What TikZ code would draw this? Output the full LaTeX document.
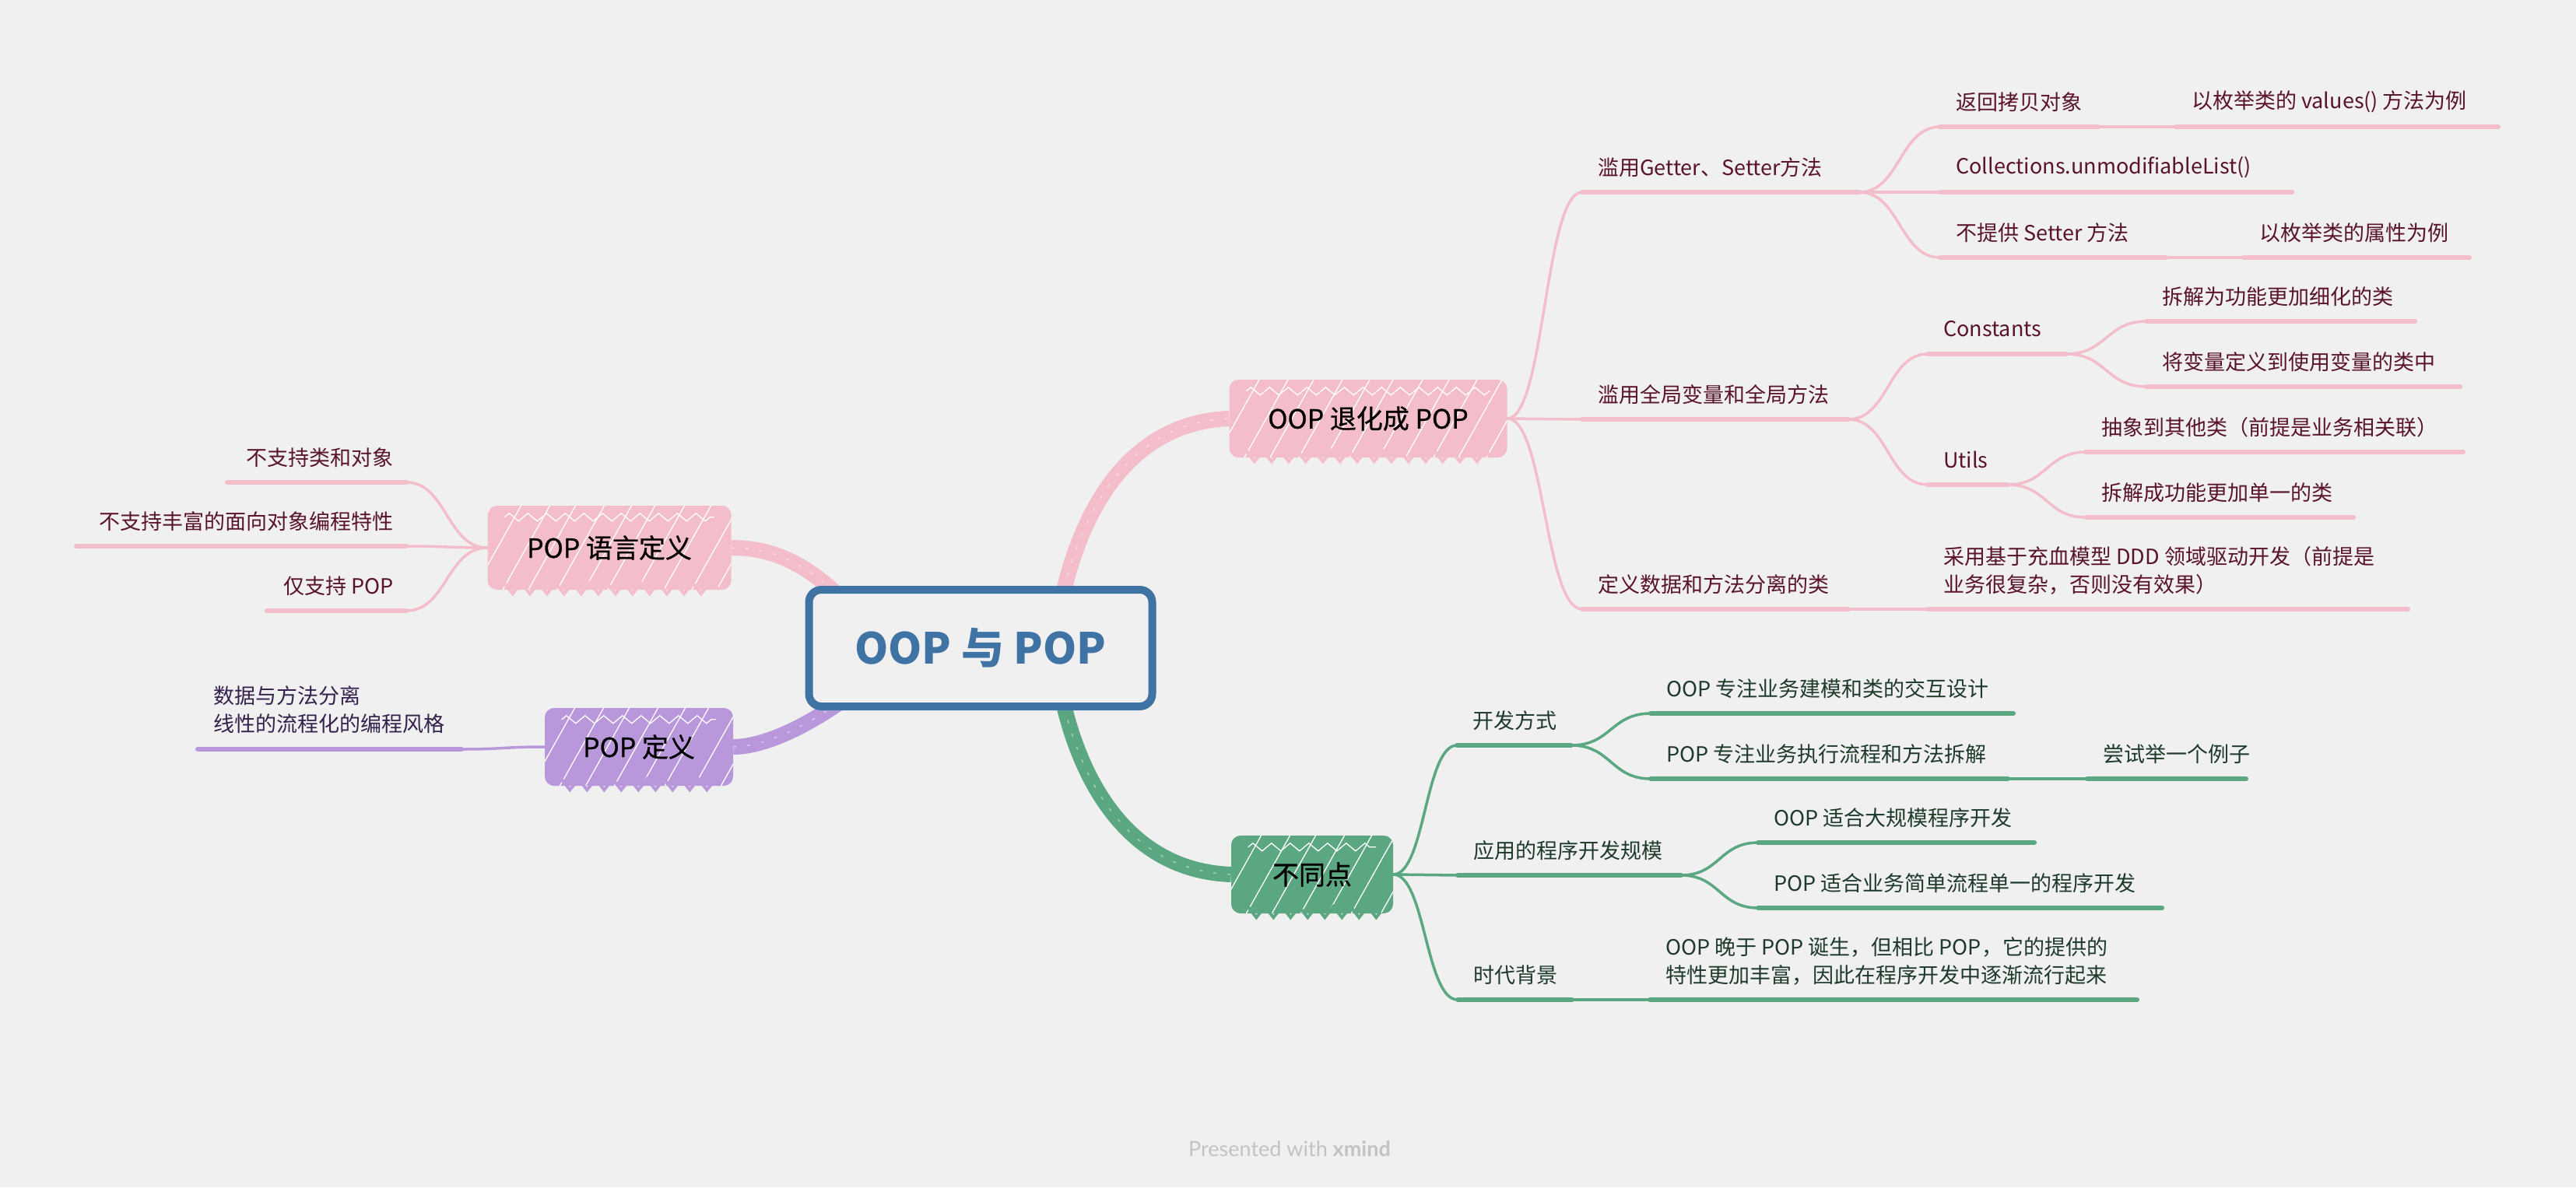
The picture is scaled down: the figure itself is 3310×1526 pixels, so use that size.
\documentclass[tikz,border=0pt]{standalone}
\usepackage{fontspec}
\setmainfont{Noto Sans CJK SC}
\newfontfamily\medfont[FakeBold=0.7]{Noto Sans CJK SC}
\newfontfamily\footfont{Lato}
\usetikzlibrary{calc,decorations.pathmorphing}
\pgfdeclarelayer{bgl}
\pgfdeclarelayer{conn}
\pgfsetlayers{bgl,conn,main}
\definecolor{bg}{HTML}{F0F0F0}
\definecolor{pk}{HTML}{F3BEC9}
\definecolor{pu}{HTML}{B898DA}
\definecolor{gr}{HTML}{5AA781}
\definecolor{bl}{HTML}{3E73A4}
\definecolor{pktx}{HTML}{5A1428}
\definecolor{putx}{HTML}{35224C}
\definecolor{grtx}{HTML}{1E3A2A}
\definecolor{footc}{HTML}{C3C3C3}
\tikzset{
  sub/.style={font=\fontsize{27}{36}\selectfont, inner sep=0pt},
  uline/.style={line width=6pt, line cap=round},
  thinc/.style={line width=3.5pt, line cap=round},
  thickc/.style={line width=20pt},
  hatchmarks/.style={white, line width=1.5pt, dash pattern=on 4pt off 14pt, opacity=0.45},
  mainnode/.style={rounded corners=12pt, inner sep=0pt, font=\medfont\fontsize{34}{40}\selectfont, text=black,
    path picture={\foreach \i in {-95,-60,-22,15,48,85,120,150,188,222,258,290,326,360}{\draw[white,line width=1.3pt] ([xshift=\i pt,yshift=-8pt]path picture bounding box.south west) -- ++(70pt,125pt);}}},
}
\newcommand\nodedecor[2]{%
  \draw[#2, line width=4pt, decorate, decoration={zigzag,segment length=22pt,amplitude=7pt}] ([xshift=16pt,yshift=2pt]#1.south west) -- ([xshift=-16pt,yshift=2pt]#1.south east);
  \draw[white, line width=1.3pt, decorate, decoration={zigzag,segment length=24pt,amplitude=5pt}] ([xshift=22pt,yshift=-15pt]#1.north west) -- ([xshift=-22pt,yshift=-15pt]#1.north east);
}
\newcommand\rt[6]{%
  \coordinate (#1-s) at (#2,#4); \coordinate (#1-e) at (#3,#4);
  \node[sub,text=#5tx,anchor=west] (#1) at ({#2+20},{#4-32}) {#6};
  \draw[uline,#5] (#1-s) -- (#1-e);}
\newcommand\rtt[7]{%
  \coordinate (#1-s) at (#2,#4); \coordinate (#1-e) at (#3,#4);
  \node[sub,text=#5tx,anchor=west,align=left] (#1) at ({#2+20},{#4-50}) {#6\\#7};
  \draw[uline,#5] (#1-s) -- (#1-e);}
\newcommand\lt[6]{%
  \coordinate (#1-s) at (#2,#4); \coordinate (#1-e) at (#3,#4);
  \node[sub,text=#5tx,anchor=east] (#1) at ({#3-16},{#4-32}) {#6};
  \draw[uline,#5] (#1-s) -- (#1-e);}
\newcommand\sconn[3]{\draw[thinc,#1] let \p1=(#2), \p2=(#3) in (#2) .. controls ({0.5*\x1+0.5*\x2},\y1) and ({0.5*\x1+0.5*\x2},\y2) .. (#3);}
\newcommand\thk[2]{\draw[thickc,#1] #2; \draw[hatchmarks] #2;}
\begin{document}
\begin{tikzpicture}[x=1pt,y=-1pt]
\begin{pgfonlayer}{bgl}
\fill[bg] (0,0) rectangle (3310,1526);
\end{pgfonlayer}
\useasboundingbox (0,0) rectangle (3310,1526);

% central and main nodes
\node[draw=bl, line width=10pt, fill=bg, rounded corners=16pt, minimum width=441pt, minimum height=150pt, text=bl, font=\fontsize{55}{60}\selectfont\bfseries] (ctr) at (1260,833) {OOP 与 POP};
\node[mainnode, fill=pk, minimum width=357pt, minimum height=100pt] (oop) at (1758,538) {OOP 退化成 POP};
\node[mainnode, fill=pk, minimum width=313pt, minimum height=108pt] (popl) at (783,704) {POP 语言定义};
\node[mainnode, fill=pu, minimum width=242pt, minimum height=100pt] (popd) at (821,960) {POP 定义};
\node[mainnode, fill=gr, minimum width=208pt, minimum height=100pt] (diff) at (1686,1124) {不同点};
\nodedecor{oop}{pk}
\nodedecor{popl}{pk}
\nodedecor{popd}{pu}
\nodedecor{diff}{gr}

% thick main connectors
\begin{pgfonlayer}{conn}
\thk{pk}{([xshift=100pt,yshift=40pt]ctr.center) .. controls +(22,-125) and +(-135,5) .. (oop.west)}
\thk{gr}{([xshift=100pt,yshift=-40pt]ctr.center) .. controls +(22,125) and +(-135,-5) .. (diff.west)}
\thk{pk}{(popl.east) .. controls +(60,0) and +(-60,-70) .. ([xshift=-150pt,yshift=33pt]ctr.center)}
\thk{pu}{(popd.east) .. controls +(38,0) and +(-70,55) .. ([xshift=-150pt,yshift=-47pt]ctr.center)}
\end{pgfonlayer}

% right pink branch
\rt{g1}{2033}{2389}{247}{pk}{滥用Getter、Setter方法}
\rt{g2}{2033}{2375}{539}{pk}{滥用全局变量和全局方法}
\rt{g3}{2033}{2375}{783}{pk}{定义数据和方法分离的类}
\rt{g11}{2493}{2696}{163}{pk}{返回拷贝对象}
\rt{g111}{2796}{3210}{163}{pk}{以枚举类的 values() 方法为例}
\rt{g12}{2493}{2945}{247}{pk}{Collections.unmodifiableList()}
\rt{g13}{2493}{2783}{331}{pk}{不提供 Setter 方法}
\rt{g131}{2883}{3173}{331}{pk}{以枚举类的属性为例}
\rt{g21}{2477}{2655}{455}{pk}{Constants}
\rt{g211}{2758}{3103}{413}{pk}{拆解为功能更加细化的类}
\rt{g212}{2758}{3161}{497}{pk}{将变量定义到使用变量的类中}
\rt{g22}{2477}{2580}{623}{pk}{Utils}
\rt{g221}{2680}{3165}{581}{pk}{抽象到其他类（前提是业务相关联）}
\rt{g222}{2680}{3024}{665}{pk}{拆解成功能更加单一的类}
\rtt{g31}{2477}{3094}{783}{pk}{采用基于充血模型 DDD 领域驱动开发（前提是}{业务很复杂，否则没有效果）}
\sconn{pk}{oop.east}{g1-s}
\sconn{pk}{oop.east}{g2-s}
\sconn{pk}{oop.east}{g3-s}
\sconn{pk}{g1-e}{g11-s}
\sconn{pk}{g1-e}{g12-s}
\sconn{pk}{g1-e}{g13-s}
\sconn{pk}{g11-e}{g111-s}
\sconn{pk}{g13-e}{g131-s}
\sconn{pk}{g2-e}{g21-s}
\sconn{pk}{g2-e}{g22-s}
\sconn{pk}{g21-e}{g211-s}
\sconn{pk}{g21-e}{g212-s}
\sconn{pk}{g22-e}{g221-s}
\sconn{pk}{g22-e}{g222-s}
\sconn{pk}{g3-e}{g31-s}

% green branch
\rt{d1}{1872}{2019}{958}{gr}{开发方式}
\rt{d11}{2121}{2587}{917}{gr}{OOP 专注业务建模和类的交互设计}
\rt{d12}{2121}{2580}{1001}{gr}{POP 专注业务执行流程和方法拆解}
\rt{d121}{2682}{2886}{1001}{gr}{尝试举一个例子}
\rt{d2}{1873}{2160}{1125}{gr}{应用的程序开发规模}
\rt{d21}{2259}{2614}{1083}{gr}{OOP 适合大规模程序开发}
\rt{d22}{2259}{2778}{1167}{gr}{POP 适合业务简单流程单一的程序开发}
\rt{d3}{1873}{2020}{1285}{gr}{时代背景}
\rtt{d31}{2120}{2746}{1285}{gr}{OOP 晚于 POP 诞生，但相比 POP，它的提供的}{特性更加丰富，因此在程序开发中逐渐流行起来}
\sconn{gr}{diff.east}{d1-s}
\sconn{gr}{diff.east}{d2-s}
\sconn{gr}{diff.east}{d3-s}
\sconn{gr}{d1-e}{d11-s}
\sconn{gr}{d1-e}{d12-s}
\sconn{gr}{d12-e}{d121-s}
\sconn{gr}{d2-e}{d21-s}
\sconn{gr}{d2-e}{d22-s}
\sconn{gr}{d3-e}{d31-s}

% left pink branch
\lt{l1}{292}{522}{620}{pk}{不支持类和对象}
\lt{l2}{98}{522}{702}{pk}{不支持丰富的面向对象编程特性}
\lt{l3}{343}{522}{785}{pk}{仅支持 POP}
\sconn{pk}{popl.west}{l1-e}
\sconn{pk}{popl.west}{l2-e}
\sconn{pk}{popl.west}{l3-e}

% purple branch
\coordinate (p1-s) at (254,963);
\coordinate (p1-e) at (593,963);
\node[sub,text=putx,anchor=west,align=left] (p1) at (274,912) {数据与方法分离\\线性的流程化的编程风格};
\draw[uline,pu] (p1-s) -- (p1-e);
\sconn{pu}{p1-e}{popd.west}

% footer
\node[font=\footfont\fontsize{27}{30}\selectfont, text=footc] (foot) at (1657,1477) {Presented with \textbf{xmind}};
\end{tikzpicture}
\end{document}
